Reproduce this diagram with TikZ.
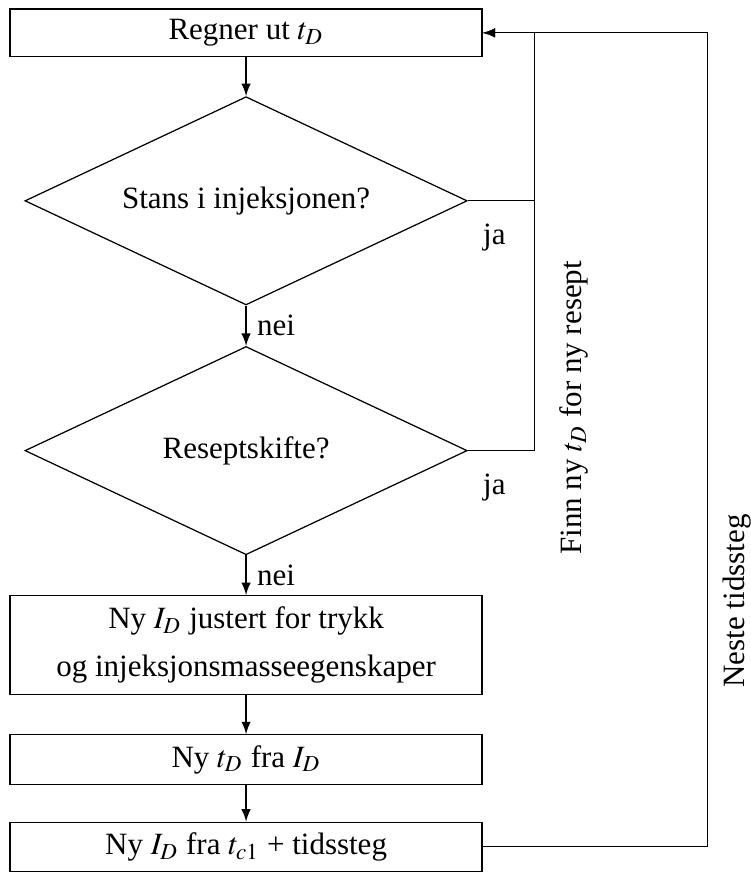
\documentclass[tikz,border=0pt]{standalone}
\usepackage{mathptmx}
\usepackage{fontspec}
\setmainfont{Liberation Serif}
\usepackage{tikz}
\usetikzlibrary{arrows,shapes.geometric,positioning}

\begin{document}
\begin{tikzpicture}[->,>=latex,auto,node distance=12.5pt,
	font=\fontsize{10pt}{15.4pt}\selectfont]
	\tikzstyle{boks}=[draw,rectangle,minimum width=152.3pt,minimum height=15.4pt,align=center]
	\tikzstyle{valg}=[draw,diamond,aspect=2.12,minimum width=142.7pt,minimum height=67.2pt,inner sep=0pt]
	
	\node[boks]                         (regn)   {Regner ut $t_D$};
	\node[valg,below=of regn]           (stans)  {Stans i injeksjonen?};
	\node[valg,below=13pt of stans]     (resept) {Reseptskifte?};
	\node[boks,minimum height=32pt,below=12.8pt of resept] (juster)
		{Ny $I_D$ justert for trykk\\og injeksjonsmasseegenskaper};
	\node[boks,minimum height=16pt,below=of juster] (nyt) {Ny $t_D$ fra $I_D$};
	\node[boks,below=11.8pt of nyt]     (nyi)    {Ny $I_D$ fra $t_{c1}$ + tidssteg};
	
	\coordinate (indre) at ([xshift=16.6pt]regn.east);
	\coordinate (ytre)  at ([xshift=72.6pt]regn.east);
	
	\path[use as bounding box] ([shift={(-79.4pt,10.6pt)}]regn.center)
		rectangle ([shift={(162.6pt,-268.5pt)}]regn.center);
	
	\path (regn)   edge (stans)
	      (stans)  edge node[right] {nei} (resept)
	      (resept) edge node[right] {nei} (juster)
	      (juster) edge (nyt)
	      (nyt)    edge (nyi);
	
	\draw[-] (stans.east) -- node[below=4pt,pos=0.4] {ja} (stans.east -| indre);
	\draw (resept.east) -- node[below=4pt,pos=0.4] {ja} (resept.east -| indre)
		-- (indre) -- (regn.east);
	\draw (nyi.east) -- (nyi.east -| ytre) -- (ytre) -- (regn.east);
	
	\node[rotate=90,inner sep=1pt] (finn)  at ([xshift=12.8pt,yshift=-121pt]indre) {Finn ny $t_D$ for ny resept};
	\node[rotate=90,inner sep=1pt] (neste) at ([xshift=9.6pt,yshift=-183.3pt]ytre)  {Neste tidssteg};
	
\end{tikzpicture}
\end{document}
